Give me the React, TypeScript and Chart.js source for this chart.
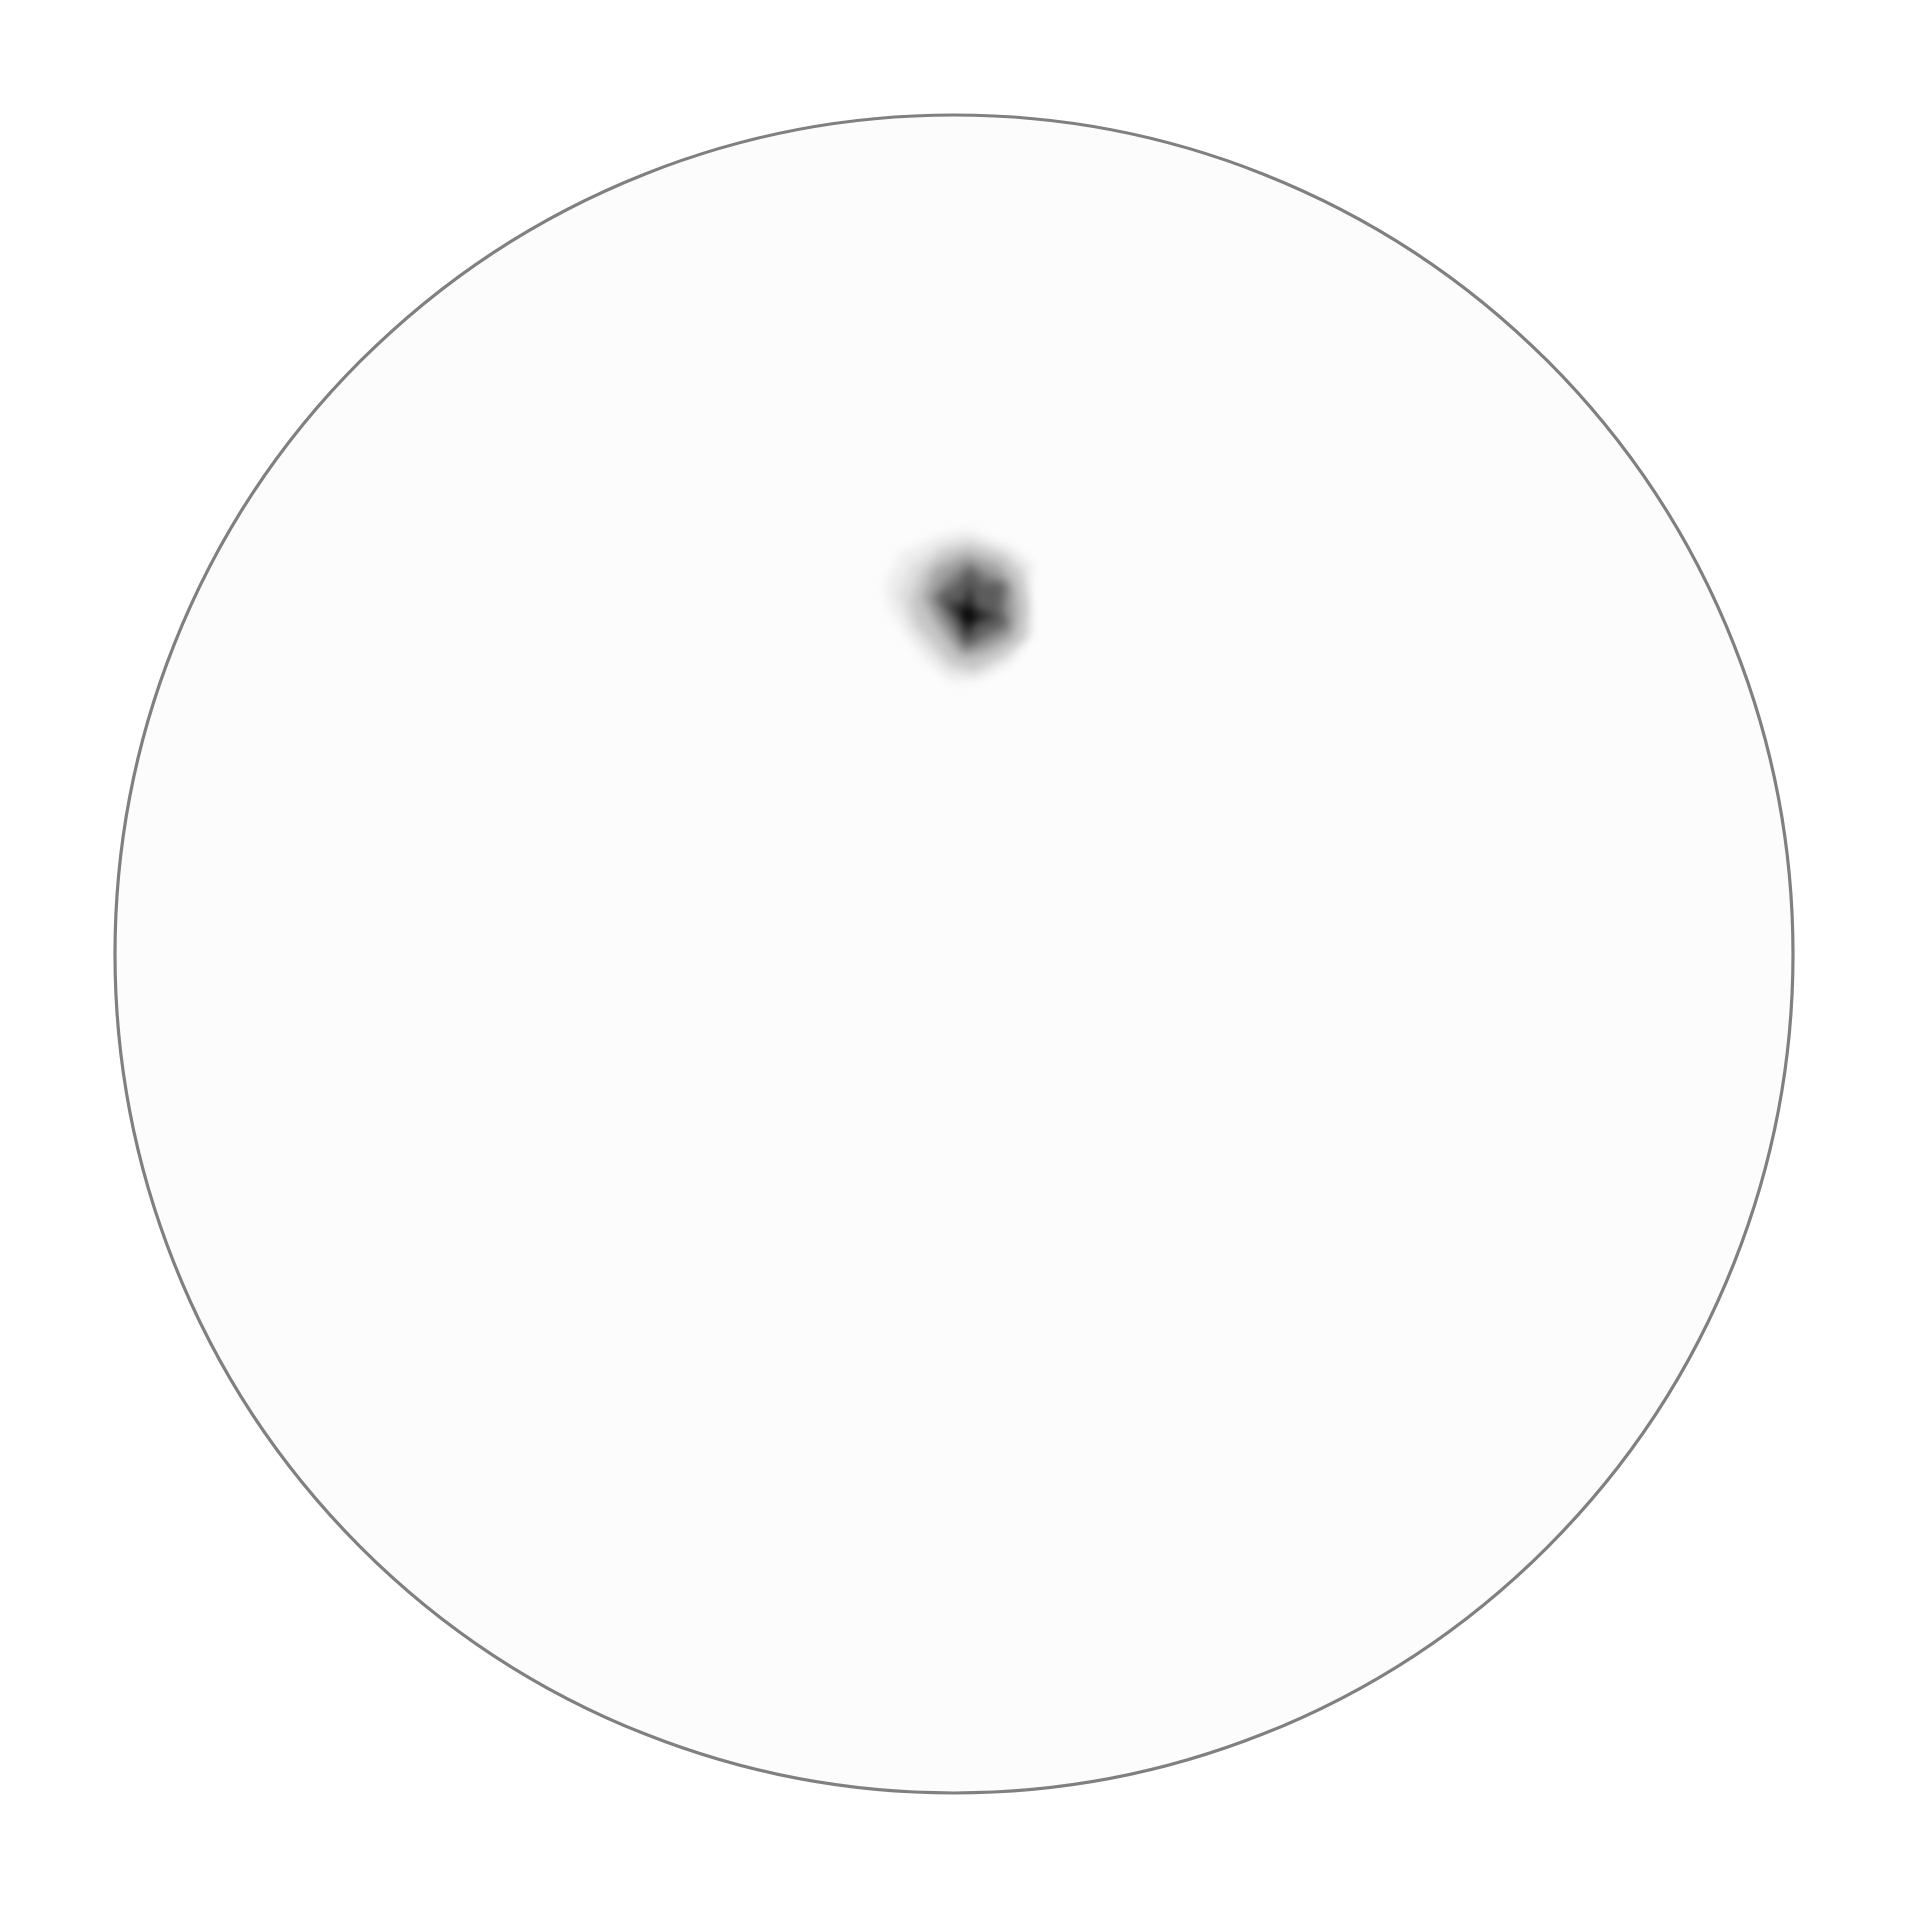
import React, { useEffect, useRef } from "react";
import { Chart, registerables } from "chart.js";

Chart.register(...registerables);

// Density peak (pole concentration) in stereonet units (-1..1)
const peakCenter = { x: 0.017, y: 0.402 };

// Filled density contour levels (offsets from the peak, stereonet units), outer -> inner
const levelColors = ["#eeeeee", "#dedede", "#c6c6c6", "#a2a2a2", "#808080", "#5c5c5c", "#2c2c2c", "#000000"];

const level1 = [
  [-0.101, 0.036], [-0.081, 0.076], [-0.037, 0.096], [-0.002, 0.104], [0.05, 0.084],
  [0.078, 0.064], [0.074, 0.032], [0.078, -0.019], [0.05, -0.055], [0.014, -0.075],
  [-0.018, -0.079], [-0.049, -0.055], [-0.073, -0.023], [-0.093, 0.008],
];
const level2 = [
  [-0.085, 0.026], [-0.068, 0.062], [-0.033, 0.085], [0.0, 0.093], [0.045, 0.077],
  [0.068, 0.056], [0.071, 0.022], [0.071, -0.021], [0.045, -0.05], [0.01, -0.068],
  [-0.02, -0.066], [-0.045, -0.042], [-0.066, -0.016],
];
const level3 = [
  [-0.07, 0.017], [-0.057, 0.052], [-0.031, 0.078], [0.002, 0.086], [0.041, 0.073],
  [0.063, 0.052], [0.071, 0.013], [0.067, -0.025], [0.041, -0.046], [0.006, -0.064],
  [-0.023, -0.055], [-0.044, -0.029], [-0.062, -0.009],
];
const level4 = [
  [-0.054, 0.022], [-0.041, 0.057], [-0.002, 0.075], [0.037, 0.062], [0.055, 0.035],
  [0.059, 0.0], [0.051, -0.025], [0.02, -0.043], [-0.007, -0.047], [-0.023, -0.03],
  [-0.041, -0.004],
];
const level5 = [
  [-0.043, 0.022], [-0.025, 0.047], [0.0, 0.064], [0.027, 0.05], [0.047, 0.037],
  [0.046, 0.004], [0.049, -0.015], [0.021, -0.03], [-0.004, -0.04], [-0.017, -0.022],
  [-0.032, 0.0],
];
const level6 = [
  [-0.037, 0.024], [-0.013, 0.04], [0.002, 0.06], [0.018, 0.04], [0.042, 0.04],
  [0.038, 0.008], [0.046, -0.008], [0.022, -0.019], [-0.002, -0.035], [-0.013, -0.015],
  [-0.025, 0.004],
];
const level7 = [
  [-0.025, 0.016], [-0.006, 0.016], [0.002, 0.04], [0.008, 0.012], [0.034, 0.0],
  [0.008, -0.008], [-0.002, -0.027], [-0.008, -0.006],
];
const level8 = [
  [-0.008, 0.003], [0.0, 0.014], [0.004, 0.004], [0.013, 0.0], [0.003, -0.004],
  [-0.001, -0.014], [-0.003, -0.004],
];

const levels = [level1, level2, level3, level4, level5, level6, level7, level8];

const netPlugin = {
  id: "netPlugin",
  beforeDatasetsDraw(chart: any) {
    const { ctx, scales } = chart;
    const cx = scales.x.getPixelForValue(0);
    const cy = scales.y.getPixelForValue(0);
    const r = scales.x.getPixelForValue(1) - cx;
    ctx.save();
    ctx.beginPath();
    ctx.arc(cx, cy, r, 0, Math.PI * 2);
    ctx.fillStyle = "#fcfcfc";
    ctx.fill();
    ctx.clip();
    ctx.filter = "blur(4px)";
    chart.data.datasets.forEach((ds: any, i: number) => {
      const meta = chart.getDatasetMeta(i);
      if (!meta.data.length) return;
      ctx.beginPath();
      meta.data.forEach((pt: any, j: number) => {
        if (j === 0) ctx.moveTo(pt.x, pt.y);
        else ctx.lineTo(pt.x, pt.y);
      });
      ctx.closePath();
      ctx.fillStyle = ds.backgroundColor;
      ctx.fill();
    });
    ctx.restore();
  },
  afterDatasetsDraw(chart: any) {
    const { ctx, scales } = chart;
    const cx = scales.x.getPixelForValue(0);
    const cy = scales.y.getPixelForValue(0);
    const r = scales.x.getPixelForValue(1) - cx;
    ctx.save();
    ctx.beginPath();
    ctx.arc(cx, cy, r, 0, Math.PI * 2);
    ctx.strokeStyle = "#808080";
    ctx.lineWidth = 3.2;
    ctx.stroke();
    ctx.restore();
  },
};

export default function App() {
  const ref = useRef<HTMLCanvasElement | null>(null);
  useEffect(() => {
    if (!ref.current) return;
    const datasets = levels.map((lv, i) => ({
      label: `level ${i + 1}`,
      data: lv.map(([dx, dy]) => ({ x: peakCenter.x + dx, y: peakCenter.y + dy })),
      backgroundColor: levelColors[i],
      pointRadius: 0,
      showLine: false,
    }));
    const chart = new Chart(ref.current, {
      type: "scatter",
      data: { datasets },
      options: {
        animation: false,
        responsive: false,
        events: [],
        layout: { padding: { left: 115, right: 115, top: 115, bottom: 114 } },
        scales: {
          x: { type: "linear", min: -1, max: 1, display: false },
          y: { type: "linear", min: -1, max: 1, display: false },
        },
        plugins: { legend: { display: false }, tooltip: { enabled: false } },
      },
      plugins: [netPlugin],
    });
    return () => chart.destroy();
  }, []);
  return (
    <div style={{ position: "fixed", left: 0, top: 0, width: 1908, height: 1907, background: "#fff" }}>
      <canvas ref={ref} width={1908} height={1907} style={{ width: 1908, height: 1907 }} />
    </div>
  );
}
